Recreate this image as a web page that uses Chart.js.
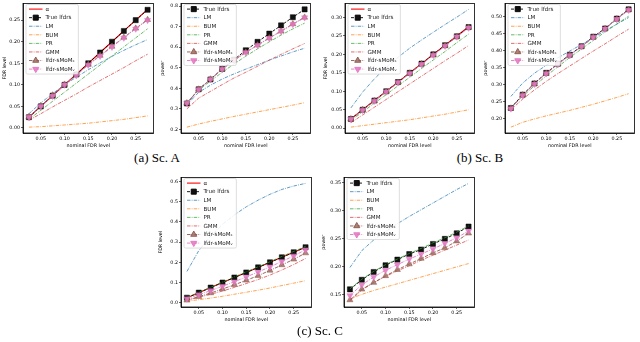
<!DOCTYPE html>
<html>
<head>
<meta charset="utf-8">
<script src="https://cdn.jsdelivr.net/npm/chart.js@4.4.0/dist/chart.umd.min.js"></script>
<style>
  body { margin: 0; background: #fff; width: 640px; height: 342px; position: relative; overflow: hidden; }
  canvas { position: absolute; }
  .cap { position: absolute; font-family: "Liberation Serif", "Times New Roman", serif; font-size: 13px; line-height: 14px; color: #000; transform: translateX(-50%); white-space: nowrap; }
</style>
</head>
<body>
<canvas id="aFdr"></canvas>
<canvas id="aPow"></canvas>
<canvas id="bFdr"></canvas>
<canvas id="bPow"></canvas>
<canvas id="cFdr"></canvas>
<canvas id="cPow"></canvas>
<div class="cap" style="left:157px;top:151px">(a) Sc. A</div>
<div class="cap" style="left:480px;top:151px">(b) Sc. B</div>
<div class="cap" style="left:320px;top:324px">(c) Sc. C</div>
<script>
  // nominal FDR level (x axis)
  let nominal = [0.025, 0.05, 0.075, 0.1, 0.125, 0.15, 0.175, 0.2, 0.225, 0.25, 0.275];
  let alphaLevel = [0.025, 0.05, 0.075, 0.1, 0.125, 0.15, 0.175, 0.2, 0.225, 0.25, 0.275];
  let xTicks = [0.05, 0.10, 0.15, 0.20, 0.25];

  // Sc. A - FDR level
  let aFdrTrue = [0.025, 0.050, 0.075, 0.100, 0.124, 0.150, 0.175, 0.200, 0.225, 0.250, 0.274];
  let aFdrLM   = [0.033, 0.058, 0.080, 0.100, 0.118, 0.135, 0.151, 0.166, 0.180, 0.193, 0.205];
  let aFdrBUM  = [0.002, 0.003, 0.005, 0.007, 0.009, 0.011, 0.014, 0.017, 0.020, 0.024, 0.028];
  let aFdrPR   = [0.020, 0.041, 0.062, 0.083, 0.104, 0.125, 0.146, 0.167, 0.188, 0.209, 0.230];
  let aFdrGMM  = [0.018, 0.033, 0.049, 0.064, 0.079, 0.095, 0.110, 0.125, 0.140, 0.156, 0.171];
  let aFdrSE   = [0.026, 0.051, 0.076, 0.101, 0.124, 0.147, 0.168, 0.189, 0.210, 0.231, 0.251];
  let aFdrSN   = [0.025, 0.050, 0.074, 0.100, 0.122, 0.146, 0.167, 0.188, 0.209, 0.230, 0.250];
  let aFdrTicks = [0, 0.05, 0.10, 0.15, 0.20, 0.25];

  // Sc. A - power
  let aPowTrue = [0.326, 0.395, 0.443, 0.494, 0.539, 0.585, 0.626, 0.666, 0.706, 0.746, 0.784];
  let aPowLM   = [0.320, 0.380, 0.415, 0.445, 0.470, 0.493, 0.515, 0.537, 0.557, 0.577, 0.595];
  let aPowBUM  = [0.211, 0.226, 0.239, 0.251, 0.263, 0.274, 0.285, 0.296, 0.307, 0.318, 0.330];
  let aPowPR   = [0.330, 0.390, 0.435, 0.478, 0.518, 0.556, 0.592, 0.626, 0.659, 0.689, 0.717];
  let aPowGMM  = [0.300, 0.352, 0.385, 0.418, 0.450, 0.478, 0.507, 0.537, 0.565, 0.592, 0.618];
  let aPowSE   = [0.328, 0.395, 0.444, 0.494, 0.536, 0.575, 0.610, 0.645, 0.678, 0.713, 0.745];
  let aPowSN   = [0.327, 0.394, 0.443, 0.493, 0.535, 0.574, 0.609, 0.644, 0.677, 0.712, 0.744];
  let aPowTicks = [0.2, 0.3, 0.4, 0.5, 0.6, 0.7, 0.8];

  // Sc. B - FDR level
  let bFdrTrue = [0.025, 0.050, 0.075, 0.100, 0.125, 0.150, 0.175, 0.200, 0.225, 0.249, 0.274];
  let bFdrLM   = [0.055, 0.098, 0.134, 0.165, 0.192, 0.217, 0.239, 0.260, 0.281, 0.301, 0.322];
  let bFdrBUM  = [0.003, 0.007, 0.011, 0.015, 0.019, 0.023, 0.028, 0.033, 0.038, 0.044, 0.050];
  let bFdrPR   = [0.021, 0.044, 0.068, 0.091, 0.115, 0.138, 0.162, 0.185, 0.208, 0.232, 0.255];
  let bFdrGMM  = [0.015, 0.036, 0.057, 0.078, 0.099, 0.120, 0.141, 0.162, 0.183, 0.203, 0.224];
  let bFdrSE   = [0.025, 0.050, 0.074, 0.099, 0.124, 0.149, 0.174, 0.199, 0.224, 0.248, 0.273];
  let bFdrSN   = [0.024, 0.049, 0.074, 0.099, 0.124, 0.148, 0.173, 0.198, 0.223, 0.248, 0.272];
  let bFdrTicks = [0, 0.05, 0.10, 0.15, 0.20, 0.25, 0.30];

  // Sc. B - power
  let bPowTrue = [0.232, 0.271, 0.304, 0.335, 0.362, 0.388, 0.413, 0.441, 0.465, 0.494, 0.521];
  let bPowLM   = [0.266, 0.305, 0.334, 0.357, 0.379, 0.399, 0.418, 0.438, 0.458, 0.478, 0.497];
  let bPowBUM  = [0.176, 0.190, 0.200, 0.209, 0.217, 0.225, 0.234, 0.243, 0.253, 0.263, 0.274];
  let bPowPR   = [0.232, 0.266, 0.297, 0.326, 0.353, 0.380, 0.405, 0.430, 0.455, 0.478, 0.501];
  let bPowGMM  = [0.227, 0.258, 0.285, 0.310, 0.333, 0.355, 0.377, 0.399, 0.420, 0.442, 0.463];
  let bPowSE   = [0.231, 0.270, 0.303, 0.333, 0.361, 0.387, 0.412, 0.439, 0.464, 0.493, 0.520];
  let bPowSN   = [0.230, 0.269, 0.302, 0.333, 0.360, 0.386, 0.412, 0.439, 0.464, 0.492, 0.519];
  let bPowTicks = [0.20, 0.25, 0.30, 0.35, 0.40, 0.45, 0.50];

  // Sc. C - FDR level
  let cFdrTrue = [0.025, 0.050, 0.075, 0.100, 0.125, 0.150, 0.175, 0.200, 0.225, 0.250, 0.275];
  let cFdrLM   = [0.155, 0.258, 0.330, 0.388, 0.435, 0.475, 0.508, 0.537, 0.561, 0.578, 0.591];
  let cFdrBUM  = [0.008, 0.015, 0.023, 0.032, 0.042, 0.052, 0.062, 0.073, 0.085, 0.097, 0.109];
  let cFdrPR   = [0.026, 0.051, 0.077, 0.102, 0.128, 0.153, 0.178, 0.203, 0.229, 0.254, 0.279];
  let cFdrGMM  = [0.013, 0.027, 0.042, 0.058, 0.076, 0.095, 0.115, 0.137, 0.162, 0.189, 0.219];
  let cFdrSE   = [0.012, 0.030, 0.048, 0.068, 0.089, 0.111, 0.134, 0.160, 0.187, 0.215, 0.246];
  let cFdrSN   = [0.020, 0.040, 0.060, 0.082, 0.104, 0.128, 0.152, 0.178, 0.204, 0.232, 0.262];
  let cFdrTicks = [0, 0.1, 0.2, 0.3, 0.4, 0.5, 0.6];

  // Sc. C - power
  let cPowTrue = [0.159, 0.176, 0.190, 0.202, 0.212, 0.222, 0.230, 0.240, 0.249, 0.259, 0.271];
  let cPowLM   = [0.198, 0.228, 0.247, 0.262, 0.276, 0.289, 0.301, 0.313, 0.325, 0.337, 0.348];
  let cPowBUM  = [0.142, 0.150, 0.157, 0.163, 0.169, 0.175, 0.181, 0.187, 0.193, 0.199, 0.205];
  let cPowPR   = [0.160, 0.177, 0.191, 0.203, 0.213, 0.223, 0.232, 0.242, 0.251, 0.261, 0.272];
  let cPowGMM  = [0.138, 0.158, 0.171, 0.182, 0.192, 0.201, 0.211, 0.220, 0.229, 0.238, 0.247];
  let cPowSE   = [0.140, 0.159, 0.171, 0.183, 0.194, 0.204, 0.214, 0.224, 0.233, 0.245, 0.259];
  let cPowSN   = [0.148, 0.167, 0.181, 0.193, 0.203, 0.213, 0.222, 0.231, 0.241, 0.251, 0.263];
  let cPowTicks = [0.15, 0.20, 0.25, 0.30, 0.35];

  // line look of each method
  let styles = {
    alpha: { label: 'α', color: '#ff0000', width: 1.1, dash: [] },
    truth: { label: 'True lfdrs', color: '#000000', width: 0.9, dash: [3, 1.5], marker: 'rect', radius: 3.6, fill: '#111111' },
    lm:    { label: 'LM', color: 'rgba(31,119,180,0.8)', width: 0.9, dash: [3.5, 1.2, 0.8, 1.2] },
    bum:   { label: 'BUM', color: 'rgba(255,127,14,0.8)', width: 0.9, dash: [3.5, 1.2, 0.8, 1.2] },
    pr:    { label: 'PR', color: 'rgba(44,160,44,0.8)', width: 0.9, dash: [3.5, 1.2, 0.8, 1.2] },
    gmm:   { label: 'GMM', color: 'rgba(214,39,40,0.75)', width: 0.9, dash: [3.5, 1.2, 0.8, 1.2] },
    se:    { label: 'lfdr-sMoMₛ', color: '#8c564b', width: 0.9, dash: [3.5, 1.2, 0.8, 1.2], marker: 'triangle', radius: 3.5, fill: 'rgba(160,110,100,0.85)' },
    sn:    { label: 'lfdr-sMoMᵥ', color: '#e377c2', width: 0.9, dash: [3.5, 1.2, 0.8, 1.2], marker: 'triangle', rotation: 180, radius: 3.5, fill: 'rgba(227,119,194,0.85)' }
  };

  let tickFont = { family: 'DejaVu Sans', size: 4.8 };

  function innerLegend(keys) {
    return {
      id: 'innerLegend',
      afterDatasetsDraw(chart) {
        let ctx = chart.ctx;
        let area = chart.chartArea;
        ctx.save();
        ctx.font = '5.6px "DejaVu Sans"';
        let textW = Math.max(...keys.map(k => ctx.measureText(styles[k].label).width));
        let bx = area.left + 3, by = area.top + 1;
        let bw = textW + 23, bh = keys.length * 8.57 + 1;
        ctx.fillStyle = 'rgba(255,255,255,0.85)';
        ctx.strokeStyle = '#d0d0d0';
        ctx.lineWidth = 0.7;
        ctx.beginPath();
        ctx.roundRect(bx, by, bw, bh, 1.5);
        ctx.fill();
        ctx.stroke();
        keys.forEach((k, i) => {
          let st = styles[k];
          let yy = by + 4.6 + i * 8.57;
          ctx.strokeStyle = st.color;
          ctx.lineWidth = st.width;
          ctx.setLineDash(st.dash);
          ctx.beginPath();
          ctx.moveTo(bx + 3, yy);
          ctx.lineTo(bx + 16.5, yy);
          ctx.stroke();
          ctx.setLineDash([]);
          if (st.marker) {
            ctx.fillStyle = st.fill;
            ctx.strokeStyle = st.color;
            Chart.helpers.drawPoint(ctx, { pointStyle: st.marker, radius: st.radius, rotation: st.rotation || 0, borderWidth: 0.5 }, bx + 9.75, yy);
          }
          ctx.fillStyle = '#222';
          ctx.textBaseline = 'middle';
          ctx.fillText(st.label, bx + 19.5, yy + 0.3);
        });
        ctx.restore();
      }
    };
  }

  let frame = {
    id: 'frame',
    afterDraw(chart) {
      let a = chart.chartArea;
      let ctx = chart.ctx;
      ctx.save();
      ctx.strokeStyle = '#000';
      ctx.lineWidth = 0.8;
      ctx.strokeRect(a.left, a.top, a.right - a.left, a.bottom - a.top);
      ctx.restore();
    }
  };

  function makePanel(id, box, yTitle, yTicks, decimals, series) {
    let yW = box.yW, xH = 17, padT = 2, padR = 2;
    let canvas = document.getElementById(id);
    canvas.width = (box.r - box.l) + yW + padR;
    canvas.height = (box.b - box.t) + padT + xH;
    canvas.style.left = (box.l - yW) + 'px';
    canvas.style.top = (box.t - padT) + 'px';

    let all = [].concat(...series.map(s => s[1]));
    let lo = Math.min(...all), hi = Math.max(...all);
    let m = (hi - lo) * 0.05;

    let n = series.length;
    let datasets = series.map(([key, vals], i) => {
      let st = styles[key];
      return {
        label: st.label,
        data: vals.map((v, j) => ({ x: nominal[j], y: v })),
        borderColor: st.color,
        borderWidth: st.width,
        borderDash: st.dash,
        backgroundColor: st.fill || st.color,
        pointStyle: st.marker || 'circle',
        pointRadius: st.marker ? st.radius : 0,
        pointRotation: st.rotation || 0,
        pointBorderColor: st.color,
        pointBackgroundColor: st.fill || st.color,
        pointBorderWidth: 0.5,
        tension: 0,
        fill: false,
        order: n - i
      };
    });

    return new Chart(canvas.getContext('2d'), {
      type: 'line',
      data: { datasets },
      options: {
        responsive: false,
        animation: false,
        events: [],
        layout: { padding: { top: padT, right: padR, left: 0, bottom: 0 } },
        plugins: { legend: { display: false }, tooltip: { enabled: false } },
        scales: {
          x: {
            type: 'linear',
            min: 0.0125,
            max: 0.2875,
            afterBuildTicks: s => { s.ticks = xTicks.map(v => ({ value: v })); },
            afterFit: s => { s.height = xH; },
            ticks: { font: tickFont, color: '#000', padding: 0.5, maxRotation: 0, autoSkip: false, callback: v => v.toFixed(2) },
            grid: { display: true, drawOnChartArea: false, drawTicks: true, tickLength: 2, color: '#000', lineWidth: 0.6 },
            border: { display: true, color: '#000', width: 0.8 },
            title: { display: true, text: 'nominal FDR level', color: '#000', font: tickFont, padding: { top: 0, bottom: 1.5 } }
          },
          y: {
            type: 'linear',
            min: lo - m,
            max: hi + m,
            afterBuildTicks: s => { s.ticks = yTicks.map(v => ({ value: v })); },
            afterFit: s => { s.width = yW; },
            ticks: { font: tickFont, color: '#000', padding: 1, autoSkip: false, callback: v => v.toFixed(decimals) },
            grid: { display: true, drawOnChartArea: false, drawTicks: true, tickLength: 2, color: '#000', lineWidth: 0.6 },
            border: { display: true, color: '#000', width: 0.8 },
            title: { display: true, text: yTitle, color: '#000', font: tickFont, padding: { top: 2, bottom: 0 } }
          }
        }
      },
      plugins: [innerLegend(series.map(s => s[0])), frame]
    });
  }

  makePanel('aFdr', { l: 23, t: 1, r: 156, b: 133, yW: 23 }, 'FDR level', aFdrTicks, 2, [
    ['alpha', alphaLevel], ['truth', aFdrTrue], ['lm', aFdrLM], ['bum', aFdrBUM],
    ['pr', aFdrPR], ['gmm', aFdrGMM], ['se', aFdrSE], ['sn', aFdrSN]
  ]);
  makePanel('aPow', { l: 181, t: 1, r: 313, b: 133, yW: 23 }, 'power', aPowTicks, 1, [
    ['truth', aPowTrue], ['lm', aPowLM], ['bum', aPowBUM],
    ['pr', aPowPR], ['gmm', aPowGMM], ['se', aPowSE], ['sn', aPowSN]
  ]);
  makePanel('bFdr', { l: 345, t: 1, r: 477, b: 133, yW: 24 }, 'FDR level', bFdrTicks, 2, [
    ['alpha', alphaLevel], ['truth', bFdrTrue], ['lm', bFdrLM], ['bum', bFdrBUM],
    ['pr', bFdrPR], ['gmm', bFdrGMM], ['se', bFdrSE], ['sn', bFdrSN]
  ]);
  makePanel('bPow', { l: 505, t: 1, r: 637, b: 133, yW: 24 }, 'power', bPowTicks, 2, [
    ['truth', bPowTrue], ['lm', bPowLM], ['bum', bPowBUM],
    ['pr', bPowPR], ['gmm', bPowGMM], ['se', bPowSE], ['sn', bPowSN]
  ]);
  makePanel('cFdr', { l: 181, t: 175, r: 314, b: 307, yW: 25 }, 'FDR level', cFdrTicks, 1, [
    ['alpha', alphaLevel], ['truth', cFdrTrue], ['lm', cFdrLM], ['bum', cFdrBUM],
    ['pr', cFdrPR], ['gmm', cFdrGMM], ['se', cFdrSE], ['sn', cFdrSN]
  ]);
  makePanel('cPow', { l: 344, t: 175, r: 477, b: 307, yW: 25 }, 'power', cPowTicks, 2, [
    ['truth', cPowTrue], ['lm', cPowLM], ['bum', cPowBUM],
    ['pr', cPowPR], ['gmm', cPowGMM], ['se', cPowSE], ['sn', cPowSN]
  ]);
</script>
</body>
</html>
